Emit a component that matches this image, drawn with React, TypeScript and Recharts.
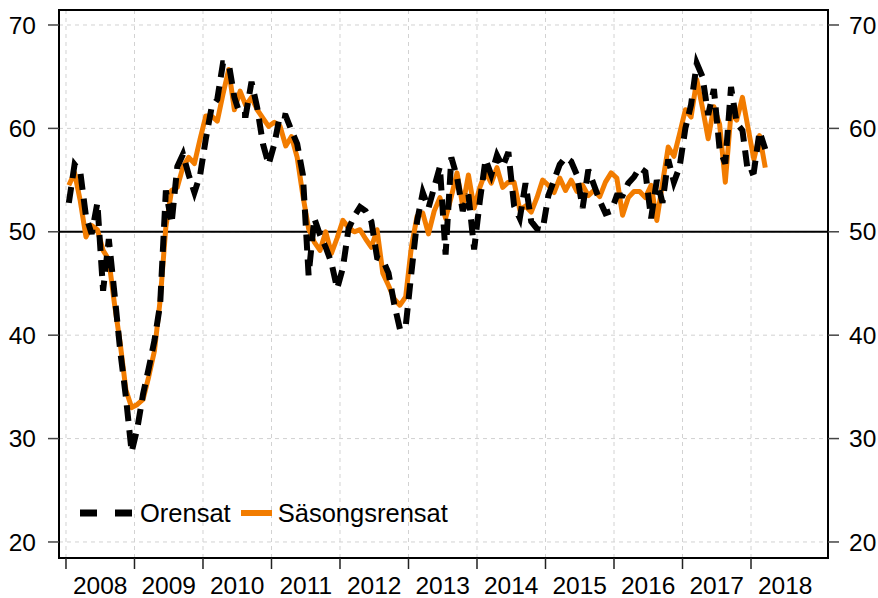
import {
  LineChart,
  Line,
  XAxis,
  YAxis,
  CartesianGrid,
  ReferenceLine,
  ReferenceArea,
  Legend,
} from "recharts";

const FONT = '"Liberation Sans", Arial, Helvetica, sans-serif';
const ORANGE = "#f27c00";

// monthly, Jan 2008 - Mar 2018
const startYear = 2008;
const yearTicks = [2008, 2009, 2010, 2011, 2012, 2013, 2014, 2015, 2016, 2017, 2018];
const yTicks = [20, 30, 40, 50, 60, 70];

const orensat = [
  52.8, 56.5, 55.8, 51.5, 49.8, 52.8, 44.3, 49.3, 44.0, 38.5, 34.0, 28.7,
  31.0, 34.3, 36.8, 39.5, 43.0, 54.0, 50.8, 56.3, 57.5, 55.5, 53.8, 55.5,
  59.0, 62.0, 62.8, 66.3, 66.3, 63.0, 61.3, 61.3, 64.5, 62.0, 58.5, 56.5,
  58.5, 61.3, 61.2, 59.8, 58.5, 55.5, 45.8, 51.3, 49.7, 48.5, 47.0, 44.5,
  46.5, 50.3, 51.5, 52.4, 52.0, 51.0, 47.5, 47.3, 46.0, 43.0, 40.6, 40.8,
  46.0, 51.0, 53.8, 52.3, 54.3, 56.3, 47.8, 57.2, 55.3, 52.0, 53.6, 48.3,
  53.0, 57.0, 55.5, 57.4, 56.3, 57.7, 52.5, 51.3, 54.7, 51.0, 50.3, 50.2,
  53.5, 55.0, 56.5, 57.2, 56.8, 55.5, 52.3, 56.0, 54.5, 53.0, 51.8, 52.0,
  53.5, 53.5, 54.7, 55.3, 56.2, 55.8, 51.3, 55.0, 52.8, 57.0, 54.8, 56.3,
  60.0, 62.3, 66.3, 65.0, 61.3, 63.8, 58.0, 56.6, 64.0, 60.5, 59.8, 55.6,
  55.8, 59.7, 58.0,
];

const sasongsrensat = [
  54.5, 55.7, 53.0, 49.5, 50.6, 50.2, 48.2, 47.3, 43.0, 39.2, 34.7, 33.0,
  33.3, 33.8, 36.0, 38.5, 43.4, 50.5, 54.0, 54.3, 56.3, 57.2, 56.6, 59.0,
  61.2, 61.2, 60.7, 63.3, 65.7, 61.8, 63.6, 62.2, 63.0, 61.8, 61.0, 60.2,
  60.6, 60.2, 58.3, 59.2, 57.2, 53.5, 50.3, 49.0, 48.2, 50.0, 47.9, 49.4,
  51.1, 50.4, 50.0, 50.2, 49.3, 48.5, 50.2, 46.0, 44.8, 43.5, 42.9, 43.7,
  48.5, 51.5, 51.8, 49.8, 52.0, 53.3, 51.3, 53.4, 55.7, 52.5, 55.5, 52.3,
  54.3, 55.8, 54.7, 56.2, 54.3, 54.8, 54.8, 52.1, 52.5, 51.9, 53.3, 55.0,
  54.5, 53.8, 55.2, 54.0, 55.0, 53.9, 54.5, 53.5, 54.0, 53.4, 54.8, 55.7,
  55.2, 51.6, 53.3, 53.9, 53.9, 53.3, 54.5, 51.1, 54.7, 58.2, 57.3, 59.5,
  61.8, 61.1, 64.7, 62.0, 59.0, 62.1, 60.4, 54.8, 61.5, 60.8, 63.0, 60.0,
  57.0, 59.3, 56.2,
];

const data = orensat.map((v, i) => ({
  t: startYear + (i + 0.5) / 12,
  orensat: v,
  sasongsrensat: sasongsrensat[i],
}));

const X_DOMAIN: [number, number] = [2007.898, 2019.124];
const Y_DOMAIN: [number, number] = [18.45, 71.45];
const HALF_YEAR_PX = 34.25;

const tickStyle = { fontFamily: FONT, fontSize: 24.5, fill: "#000" };

const YearTick = (props: any) => {
  const { x, y, payload } = props;
  return (
    <text x={x + HALF_YEAR_PX} y={y} dy="0.71em" textAnchor="middle" style={tickStyle}>
      {payload.value}
    </text>
  );
};

const LegendBox = () => (
  <div
    style={{
      display: "flex",
      alignItems: "center",
      fontFamily: FONT,
      fontSize: 25.5,
      lineHeight: "30px",
      color: "#000",
      whiteSpace: "nowrap",
    }}
  >
    <svg width={53} height={30}>
      <line x1={0} y1={15} x2={53} y2={15} stroke="#000" strokeWidth={7} strokeDasharray="17 18" />
    </svg>
    <span style={{ marginLeft: 7 }}>Orensat</span>
    <svg width={31} height={30} style={{ marginLeft: 10 }}>
      <line x1={0} y1={15} x2={31} y2={15} stroke={ORANGE} strokeWidth={6} />
    </svg>
    <span style={{ marginLeft: 6 }}>Säsongsrensat</span>
  </div>
);

export default function App() {
  return (
    <div style={{ position: "absolute", left: 0, top: 0, background: "#fff" }}>
      <LineChart width={878} height={598} data={data} margin={{ top: 10, right: 0, bottom: 0, left: 0 }}>
        <CartesianGrid stroke="#d2d2d2" strokeDasharray="4 4" />
        <XAxis
          dataKey="t"
          type="number"
          domain={X_DOMAIN}
          ticks={yearTicks}
          allowDataOverflow
          height={40}
          axisLine={false}
          tickLine={{ stroke: "#222", strokeWidth: 1.5 }}
          tickSize={11}
          tickMargin={8}
          tick={<YearTick />}
          interval={0}
        />
        <YAxis
          domain={Y_DOMAIN}
          ticks={yTicks}
          allowDataOverflow
          width={59}
          axisLine={false}
          tickLine={{ stroke: "#444", strokeWidth: 1.5 }}
          tickSize={11}
          tickMargin={12}
          tick={tickStyle}
          interval={0}
        />
        <YAxis
          yAxisId="right"
          orientation="right"
          domain={Y_DOMAIN}
          ticks={yTicks}
          allowDataOverflow
          width={50}
          axisLine={false}
          tickLine={{ stroke: "#444", strokeWidth: 1.5 }}
          tickSize={11}
          tickMargin={10}
          tick={tickStyle}
          interval={0}
        />
        <ReferenceLine y={50} stroke="#000" strokeWidth={2} />
        <Line
          dataKey="sasongsrensat"
          name="Säsongsrensat"
          stroke={ORANGE}
          strokeWidth={5}
          dot={false}
          strokeLinejoin="round"
          isAnimationActive={false}
        />
        <Line
          dataKey="orensat"
          name="Orensat"
          stroke="#000"
          strokeWidth={6}
          strokeDasharray="16 9"
          dot={false}
          isAnimationActive={false}
        />
        <ReferenceArea
          x1={X_DOMAIN[0]}
          x2={X_DOMAIN[1]}
          y1={Y_DOMAIN[0]}
          y2={Y_DOMAIN[1]}
          fill="none"
          fillOpacity={0}
          stroke="#000"
          strokeWidth={2}
        />
        <Legend
          layout="horizontal"
          verticalAlign="middle"
          align="center"
          content={<LegendBox />}
          wrapperStyle={{ left: 80, top: 498, width: 420, height: 30 }}
        />
      </LineChart>
    </div>
  );
}
